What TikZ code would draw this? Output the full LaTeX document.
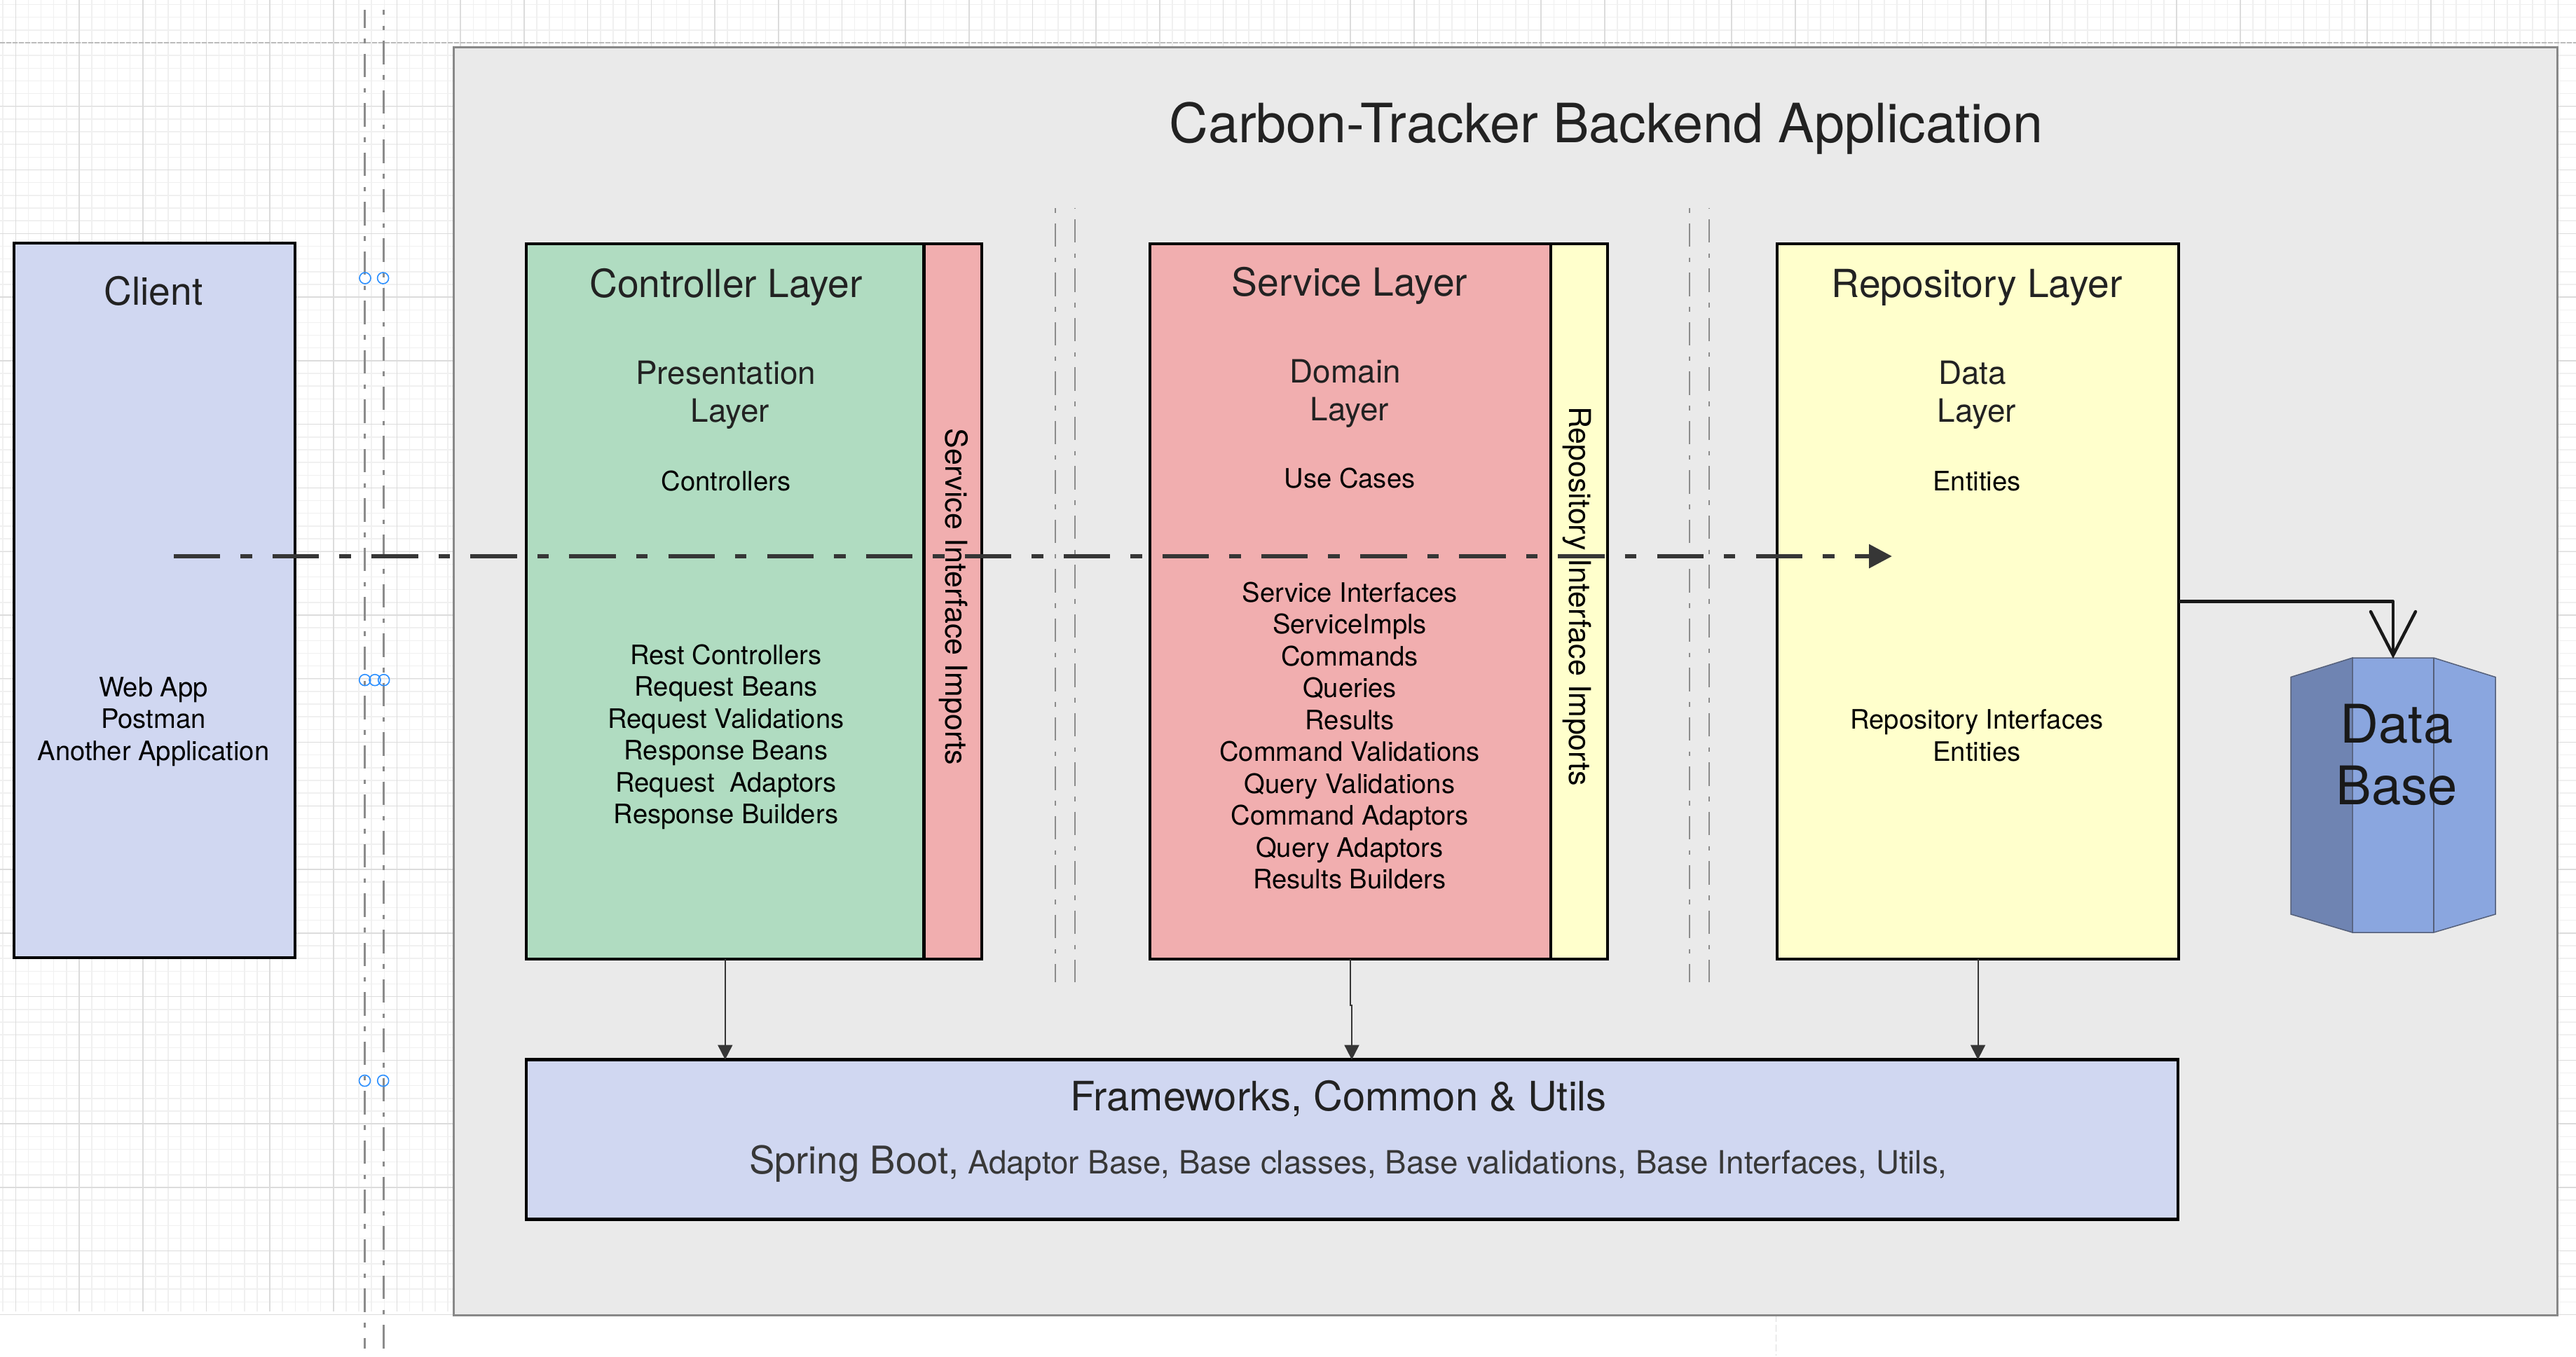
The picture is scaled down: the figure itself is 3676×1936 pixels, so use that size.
\documentclass[tikz,border=0pt]{standalone}
\usepackage{fontspec}
\setmainfont{TeX Gyre Heros}
\usetikzlibrary{arrows.meta}
\newcommand{\sz}[2]{\fontsize{#1}{#2}\selectfont}
\definecolor{minorgrid}{HTML}{F0F0F0}
\definecolor{majorgrid}{HTML}{DCDCDC}
\definecolor{panelfill}{HTML}{EAEAEA}
\definecolor{panelline}{HTML}{888888}
\definecolor{bluefill}{HTML}{D0D7F1}
\definecolor{greenfill}{HTML}{B0DCC1}
\definecolor{pinkfill}{HTML}{F1AEAF}
\definecolor{yellowfill}{HTML}{FFFFCC}
\definecolor{dbmid}{HTML}{8AA6DF}
\definecolor{dbleft}{HTML}{6F84B2}
\definecolor{dbline}{HTML}{55607A}
\definecolor{guide}{HTML}{8C8C8C}
\definecolor{handle}{HTML}{2B8FFF}
\definecolor{flow}{HTML}{363636}
\definecolor{ink}{HTML}{222222}
\tikzset{
  layerbox/.style={draw=black,line width=4.6pt,inner sep=0pt,outer sep=0pt,rectangle},
  label/.style={inner sep=0pt,outer sep=0pt,align=center,text=ink},
  head/.style={label,font=\sz{55.2}{60}},
  sub/.style={label,font=\sz{45.8}{53.5}},
  body/.style={label,text=black,font=\sz{38.2}{45.5}},
  side/.style={label,text=black,rotate=-90,font=\sz{43}{50}},
  guideA/.style={draw=guide,line width=3pt,dash pattern=on 33.5pt off 15.5pt on 6.5pt off 15pt},
  guideB/.style={draw=guide,line width=2pt,dash pattern=on 33.5pt off 15.5pt on 6.5pt off 15pt},
  handlemark/.style={circle,draw=handle,line width=1.6pt,minimum size=16pt,inner sep=0pt},
  thinarrow/.style={draw=flow,line width=2pt,-{Triangle[length=21pt,width=21pt]}},
}
\begin{document}
\begin{tikzpicture}[x=1pt,y=-1pt]
\useasboundingbox (0,0) rectangle (3676,1936);
\fill[white] (0,0) rectangle (3676,1936);
% background grid
\foreach \k in {-1,...,200}{
  \pgfmathsetmacro{\gx}{22.3+18.14*\k}
  \draw[minorgrid,line width=1.5pt] (\gx,0) -- (\gx,1872);
}
\foreach \k in {-3,...,99}{
  \pgfmathsetmacro{\gy}{61+18.155*\k}
  \draw[minorgrid,line width=1.5pt] (0,\gy) -- (3676,\gy);
}
\foreach \k in {0,...,40}{
  \pgfmathsetmacro{\gx}{22.3+90.7*\k}
  \draw[majorgrid,line width=1.6pt] (\gx,0) -- (\gx,1872);
}
\foreach \k in {1,...,20}{
  \pgfmathsetmacro{\gy}{61+90.775*\k}
  \draw[majorgrid,line width=1.4pt] (0,\gy) -- (3676,\gy);
}
\draw[majorgrid!85!black,line width=1.5pt,dash pattern=on 7pt off 2pt] (0,61) -- (3676,61);
\draw[majorgrid,line width=1pt,dash pattern=on 10pt off 4pt] (2534,1877) -- (2534,1935);
% panel
\node[draw=panelline,fill=panelfill,line width=3pt,inner sep=0pt,outer sep=0pt,minimum width=3002pt,minimum height=1810pt] (panel) at (2148,972) {};
% outer guides
\coordinate (ga1) at (520,14); \coordinate (ga2) at (520,1925);
\coordinate (gb1) at (547,14); \coordinate (gb2) at (547,1925);
\draw[guideA,dash phase=8pt] (ga1) -- (ga2);
\draw[guideA,dash phase=26.5pt] (gb1) -- (gb2);
\node[handlemark] (h1) at (521,397) {};
\node[handlemark] (h2) at (546.6,397) {};
\node[handlemark] (h3) at (520.7,970.7) {};
\node[handlemark] (h4) at (535,970.7) {};
\node[handlemark] (h5) at (547.7,970.7) {};
\node[handlemark] (h6) at (520.5,1542.6) {};
\node[handlemark] (h7) at (546.7,1542.6) {};
% inner guides
\coordinate (gc1) at (1506,297); \coordinate (gc2) at (1506,1402);
\coordinate (gd1) at (1534,297); \coordinate (gd2) at (1534,1402);
\coordinate (ge1) at (2410.6,297); \coordinate (ge2) at (2410.6,1402);
\coordinate (gf1) at (2439,297); \coordinate (gf2) at (2439,1402);
\draw[guideB,dash phase=49pt] (gc1) -- (gc2);
\draw[guideB,dash phase=55pt] (gd1) -- (gd2);
\draw[guideB,dash phase=49pt] (ge1) -- (ge2);
\draw[guideB,dash phase=55pt] (gf1) -- (gf2);
% boxes
\node[layerbox,fill=bluefill,minimum width=401pt,minimum height=1020pt] (client) at (220.5,857) {};
\node[layerbox,fill=greenfill,minimum width=567.6pt,minimum height=1021pt] (ctrl) at (1034.8,858.5) {};
\node[layerbox,line width=4pt,fill=pinkfill,minimum width=82.9pt,minimum height=1021pt] (ctrlimp) at (1360,858.5) {};
\node[layerbox,fill=pinkfill,minimum width=572pt,minimum height=1021pt] (svc) at (1927,858.5) {};
\node[layerbox,line width=4pt,fill=yellowfill,minimum width=81pt,minimum height=1021pt] (svcimp) at (2253.5,858.5) {};
\node[layerbox,fill=yellowfill,minimum width=573pt,minimum height=1021pt] (repo) at (2822.5,858.5) {};
\node[layerbox,fill=bluefill,minimum width=2357pt,minimum height=228pt] (fw) at (1929.5,1626.5) {};
% database
\path[fill=dbmid,draw=dbline,line width=1.5pt] (3357,939) -- (3473,939) -- (3561,966.5) -- (3561,1305) -- (3473,1331) -- (3357,1331) -- cycle;
\path[fill=dbleft,draw=dbline,line width=1.5pt] (3357,939) -- (3269,966.5) -- (3269,1305) -- (3357,1331) -- cycle;
\draw[dbline,line width=1.5pt] (3473,939) -- (3473,1331);
\coordinate (dbtop) at (3415,940);
\node[label,text=black!90,font=\sz{76}{88}] (db) at (3420,1077) {Data\\Base};
% connectors
\coordinate (svcin) at (1929,1512.6);
\draw[thinarrow] (ctrl.south) -- (ctrl.south |- fw.north);
\draw[thinarrow] (svc.south) |- (1929,1435) -- (svcin);
\draw[thinarrow] (repo.south) -- (repo.south |- fw.north);
\draw[black!90,line width=4.5pt,line join=round,-{Straight Barb[length=62pt,width=64pt,line cap=round]}] (repo.east) -| (dbtop);
% text
\node[label,font=\sz{77.3}{84}] (title) at (2292,183) {Carbon-Tracker Backend Application};
\node[head] (tclient) at (219,415) {Client};
\node[body] (lclient) at (219,1030) {Web App\\Postman\\Another Application};
\node[head] (tctrl) at (1036,410) {Controller Layer};
\node[sub] (sctrl) at (1042,564) {Presentation\kern 12.5pt\relax\\Layer};
\node[body] (uctrl) at (1036,687) {Controllers};
\node[body] (lctrl) at (1036,1052) {Rest Controllers\\Request Beans\\Request Validations\\Response Beans\\Request\ \ Adaptors\\Response Builders};
\node[side] (ictrl) at (1361,852) {Service Interface Imports};
\node[head] (tsvc) at (1926,408) {Service Layer};
\node[sub] (ssvc) at (1926,562) {Domain\kern 12.5pt\relax\\Layer};
\node[body] (usvc) at (1926,683) {Use Cases};
\node[body] (lsvc) at (1926,1050) {Service Interfaces\\ServiceImpls\\Commands\\Queries\\Results\\Command Validations\\Query Validations\\Command Adaptors\\Query Adaptors\\Results Builders};
\node[side] (isvc) at (2251,851) {Repository Interface Imports};
\node[head] (trepo) at (2821,410) {Repository Layer};
\node[sub] (srepo) at (2821,564) {Data\kern 12.5pt\relax\\Layer};
\node[body] (urepo) at (2821,687) {Entities};
\node[body] (lrepo) at (2821,1050) {Repository Interfaces\\Entities};
\node[head,font=\sz{57.9}{60}] (tfw) at (1910,1568) {Frameworks, Common \& Utils};
\node[label,text=ink!90,anchor=base west] (lfw) at (1069,1675) {{\sz{54.5}{60}Spring Boot,}{\sz{45.7}{60} Adaptor Base, Base classes, Base validations, Base Interfaces, Utils,}};
% main flow
\coordinate (flowa) at (248,794);
\coordinate (flowb) at (2700,794);
\draw[flow,line width=6.5pt,dash pattern=on 66.3pt off 29pt on 16.6pt off 29.2pt,-{Triangle[length=33pt,width=33pt]}] (flowa) -- (flowb);
\end{tikzpicture}
\end{document}
